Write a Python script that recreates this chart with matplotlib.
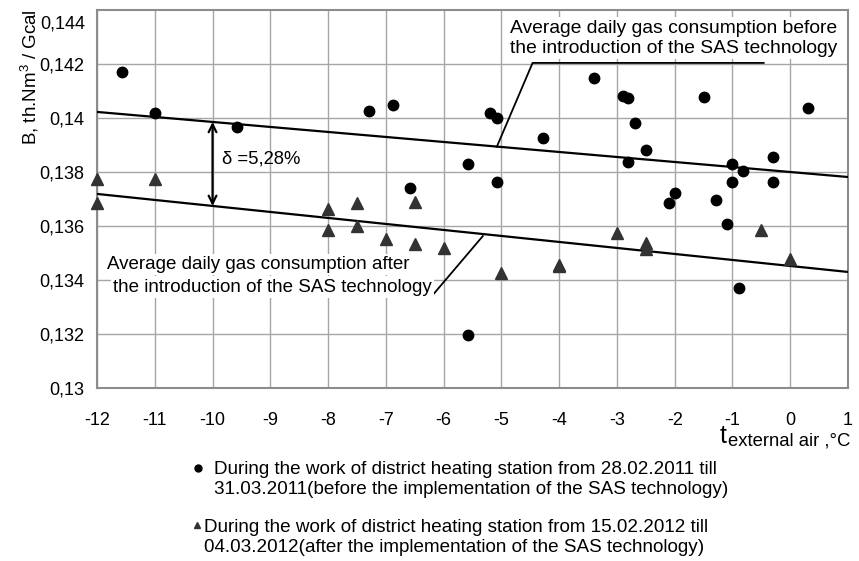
import matplotlib
matplotlib.use("Agg")
import matplotlib.pyplot as plt
from matplotlib.lines import Line2D
import numpy as np

plt.rcParams["font.family"] = ["Liberation Sans", "DejaVu Sans"]
plt.rcParams["mathtext.fontset"] = "custom"
plt.rcParams["mathtext.rm"] = "Liberation Sans"
plt.rcParams["mathtext.it"] = "Liberation Sans"

# before SAS technology (circles), 28.02.2011 - 31.03.2011
before_t = [-11.57, -11.0, -9.58, -7.29, -6.88, -6.58, -5.58, -5.58, -5.20, -5.08,
            -5.08, -4.28, -3.40, -2.90, -2.80, -2.80, -2.69, -2.50, -2.10, -2.00,
            -1.50, -1.29, -1.10, -1.00, -1.00, -0.89, -0.81, -0.30, -0.30, 0.30]
before_b = [0.1417, 0.1402, 0.13967, 0.14026, 0.14048, 0.13741, 0.13830, 0.13196, 0.1402, 0.1400,
            0.13763, 0.13926, 0.14148, 0.14082, 0.14074, 0.13837, 0.13981, 0.13881, 0.13685, 0.13722,
            0.14078, 0.13696, 0.13607, 0.13830, 0.13763, 0.13370, 0.13804, 0.13855, 0.13763, 0.14037]

# after SAS technology (triangles), 15.02.2012 - 04.03.2012
after_t = [-12, -12, -11, -8, -8, -7.5, -7.5, -7, -6.5, -6.5,
           -6, -5, -4, -4, -3, -2.5, -2.5, -0.5, 0]
after_b = [0.13774, 0.13685, 0.13774, 0.13663, 0.13585, 0.13685, 0.13600, 0.13552, 0.13689, 0.13533,
           0.13519, 0.13426, 0.13456, 0.13450, 0.13574, 0.13537, 0.13515, 0.13585, 0.13478]

# average lines: B = slope * t + intercept
fit_before = (-0.0001854, 0.13800)
fit_after = (-0.0002223, 0.13452)

x_ticks = list(range(-12, 2))
y_ticks = [0.130, 0.132, 0.134, 0.136, 0.138, 0.140, 0.142]
y_tick_labels = ["0,13", "0,132", "0,134", "0,136", "0,138", "0,14", "0,142"]

W, H = 859, 561
fig = plt.figure(figsize=(W / 100, H / 100), dpi=100)
ax = fig.add_axes([97 / W, 1 - 388 / H, (848 - 97) / W, (388 - 10) / H])

ax.set_xlim(-12, 1)
ax.set_ylim(0.130, 0.144)
ax.set_xticks(x_ticks)
ax.set_xticklabels([str(v) for v in x_ticks], fontsize=13)
ax.set_yticks(y_ticks)
ax.set_yticklabels(y_tick_labels, fontsize=13)
ax.tick_params(axis="x", length=0, pad=17)
ax.tick_params(axis="y", length=0, pad=9)
ax.grid(True, color="#a6a6a6", lw=1.0)
ax.set_axisbelow(True)
for s in ax.spines.values():
    s.set_color("#8c8c8c")
    s.set_linewidth(1.5)

# top label sits lower than its gridline in the original
ax.text(-0.0155, 0.14348, "0,144", transform=ax.get_yaxis_transform(),
        ha="right", va="center", fontsize=13)

tt = np.array([-12, 1])
ax.plot(tt, fit_before[0] * tt + fit_before[1], color="black", lw=1.6, zorder=3)
ax.plot(tt, fit_after[0] * tt + fit_after[1], color="black", lw=1.6, zorder=3)

ax.plot(before_t, before_b, "o", color="black", ms=7.5, zorder=4, clip_on=False)
ax.plot(after_t, after_b, "^", color="#333333", ms=9, zorder=4, clip_on=False)

# delta arrow between the two averages
xa = -10
ax.annotate("", xy=(xa, fit_after[0] * xa + fit_after[1]),
            xytext=(xa, fit_before[0] * xa + fit_before[1]),
            arrowprops=dict(arrowstyle="<->", color="black", lw=1.6,
                            shrinkA=0, shrinkB=0, mutation_scale=14), zorder=5)
ax.text(-9.84, 0.13848, "δ =5,28%", fontsize=13.3, va="center", ha="left")

# callouts
box = dict(facecolor="white", edgecolor="none", pad=1.5)
ax.text(0.82, 0.14333, "Average daily gas consumption before", fontsize=13.9,
        ha="right", va="center", bbox=box, zorder=6)
ax.text(0.82, 0.14259, "the introduction of the SAS technology", fontsize=13.9,
        ha="right", va="center", bbox=box, zorder=6)
ax.plot([-0.46, -4.46, -5.08], [0.14204, 0.14204, 0.13893], color="black", lw=1.3, zorder=5)

ax.text(-11.83, 0.13456, "Average daily gas consumption after", fontsize=13.5,
        ha="left", va="center", bbox=box, zorder=6)
ax.text(-11.72, 0.13374, "the introduction of the SAS technology", fontsize=13.5,
        ha="left", va="center", bbox=box, zorder=6)
ax.plot([-11.72, -6.19, -5.32], [0.13344, 0.13344, 0.13563], color="black", lw=1.3, zorder=5)

# axis titles
fig.text(30 / W, 1 - 77 / H, r"B, th.Nm$^3$ / Gcal", rotation=90,
         ha="center", va="center", fontsize=13.5)
fig.text(727 / W, 1 - 436 / H, "t", ha="right", va="center", fontsize=18)
fig.text(728 / W, 1 - 441 / H, "external air ,°C", ha="left", va="center", fontsize=13.3)

# legend below the chart
fig.add_artist(Line2D([198 / W], [1 - 468 / H], marker="o", color="black", ms=5,
                      transform=fig.transFigure))
fig.text(214 / W, 1 - 470 / H, "During the work of district heating station from 28.02.2011 till",
         ha="left", va="center", fontsize=13.6)
fig.text(214 / W, 1 - 490 / H, "31.03.2011(before the implementation of the SAS technology)",
         ha="left", va="center", fontsize=13.6)
fig.add_artist(Line2D([197 / W], [1 - 525 / H], marker="^", color="#333333", ms=5,
                      transform=fig.transFigure))
fig.text(204 / W, 1 - 527 / H, "During the work of district heating station from 15.02.2012 till",
         ha="left", va="center", fontsize=13.6)
fig.text(204 / W, 1 - 547 / H, "04.03.2012(after the implementation of the SAS technology)",
         ha="left", va="center", fontsize=13.6)

fig.savefig("out.png", dpi=100)
